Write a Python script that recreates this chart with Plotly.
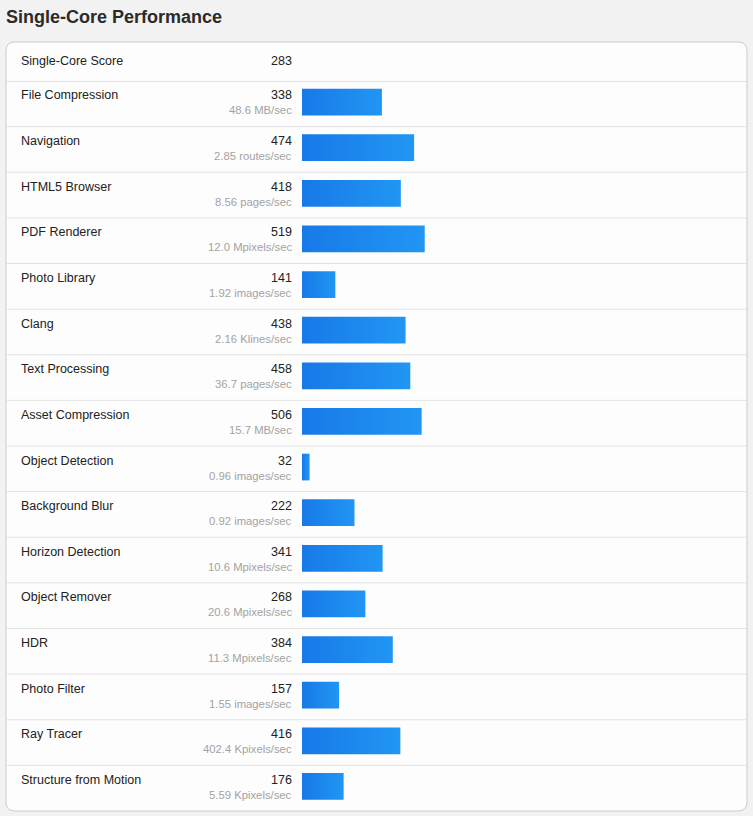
import plotly.graph_objects as go

W, H = 753, 816

title = "Single-Core Performance"
score_label = "Single-Core Score"
score_value = 283

names = ["File Compression", "Navigation", "HTML5 Browser", "PDF Renderer",
         "Photo Library", "Clang", "Text Processing", "Asset Compression",
         "Object Detection", "Background Blur", "Horizon Detection",
         "Object Remover", "HDR", "Photo Filter", "Ray Tracer",
         "Structure from Motion"]
scores = [338, 474, 418, 519, 141, 438, 458, 506, 32, 222, 341, 268, 384, 157, 416, 176]
units = ["48.6 MB/sec", "2.85 routes/sec", "8.56 pages/sec", "12.0 Mpixels/sec",
         "1.92 images/sec", "2.16 Klines/sec", "36.7 pages/sec", "15.7 MB/sec",
         "0.96 images/sec", "0.92 images/sec", "10.6 Mpixels/sec", "20.6 Mpixels/sec",
         "11.3 Mpixels/sec", "1.55 images/sec", "402.4 Kpixels/sec", "5.59 Kpixels/sec"]

FONT = "Arial, Liberation Sans, Helvetica, sans-serif"


def xp(px):
    return px / W


def yp(px):
    return 1 - px / H


n = len(names)
ROW_TOP, ROW_BOT = 81, 811
row_h = (ROW_BOT - ROW_TOP) / n
bar_a = 7.7 / row_h
bar_b = 34.4 / row_h

fig = go.Figure()

for i, (nm, v) in enumerate(zip(names, scores)):
    fig.add_trace(go.Scatter(
        x=[0, v, v, 0, 0],
        y=[i + bar_a, i + bar_a, i + bar_b, i + bar_b, i + bar_a],
        mode="lines", line=dict(width=0), fill="toself",
        fillgradient=dict(type="horizontal",
                          colorscale=[[0, "#1779e8"], [1, "#2196f3"]]),
        hoverinfo="skip", showlegend=False, name=nm))

shapes = []
# card with rounded corners
L, T, R, B, r = 6, 42, 747, 811, 9
path = (f"M {xp(L + r)},{yp(T)} L {xp(R - r)},{yp(T)} "
        f"Q {xp(R)},{yp(T)} {xp(R)},{yp(T + r)} L {xp(R)},{yp(B - r)} "
        f"Q {xp(R)},{yp(B)} {xp(R - r)},{yp(B)} L {xp(L + r)},{yp(B)} "
        f"Q {xp(L)},{yp(B)} {xp(L)},{yp(B - r)} L {xp(L)},{yp(T + r)} "
        f"Q {xp(L)},{yp(T)} {xp(L + r)},{yp(T)} Z")
shapes.append(dict(type="path", path=path, xref="paper", yref="paper",
                   fillcolor="#fdfdfd", line=dict(color="#cccccc", width=1),
                   layer="below"))
# header separator
shapes.append(dict(type="line", xref="paper", yref="y", x0=xp(L), x1=xp(R),
                   y0=0, y1=0, line=dict(color="#c8c8c8", width=1), layer="below"))
for i in range(1, n):
    shapes.append(dict(type="line", xref="paper", yref="y", x0=xp(L), x1=xp(R),
                       y0=i, y1=i, line=dict(color="#e2e2e2", width=1), layer="below"))

NAME_X, NUM_X = 19, 294

ann = []
ann.append(dict(text=f"<b>{title}</b>", x=xp(4), y=yp(17), xref="paper", yref="paper",
                xanchor="left", yanchor="middle", showarrow=False,
                font=dict(family=FONT, size=18, color="#2b2b2b")))
ann.append(dict(text=score_label, x=xp(NAME_X), y=yp(61), xref="paper", yref="paper",
                xanchor="left", yanchor="middle", showarrow=False,
                font=dict(family=FONT, size=12.5, color="#222222")))
ann.append(dict(text=str(score_value), x=xp(NUM_X), y=yp(61), xref="paper", yref="paper",
                xanchor="right", yanchor="middle", showarrow=False,
                font=dict(family=FONT, size=12.5, color="#222222")))

name_off = 14.5 / row_h
unit_off = 29.5 / row_h
for i, (nm, v, u) in enumerate(zip(names, scores, units)):
    ann.append(dict(text=nm, x=xp(NAME_X), y=i + name_off, xref="paper", yref="y",
                    xanchor="left", yanchor="middle", showarrow=False,
                    font=dict(family=FONT, size=12.5, color="#222222")))
    ann.append(dict(text=str(v), x=xp(NUM_X), y=i + name_off, xref="paper", yref="y",
                    xanchor="right", yanchor="middle", showarrow=False,
                    font=dict(family=FONT, size=12.5, color="#222222")))
    ann.append(dict(text=u, x=xp(NUM_X), y=i + unit_off, xref="paper", yref="y",
                    xanchor="right", yanchor="middle", showarrow=False,
                    font=dict(family=FONT, size=11.3, color="#a3a3a3")))

fig.update_layout(
    width=W, height=H, margin=dict(l=0, r=0, t=0, b=0),
    paper_bgcolor="#f2f2f2", plot_bgcolor="rgba(0,0,0,0)",
    xaxis=dict(domain=[xp(302), xp(747)], range=[0, 1882], visible=False, fixedrange=True),
    yaxis=dict(domain=[yp(ROW_BOT), yp(ROW_TOP)], range=[n, 0], visible=False, fixedrange=True),
    shapes=shapes, annotations=ann, showlegend=False,
)

fig.write_html("out.html", config={"displayModeBar": False},
               post_script="document.body.style.margin='0';document.body.style.background='#f2f2f2';")
